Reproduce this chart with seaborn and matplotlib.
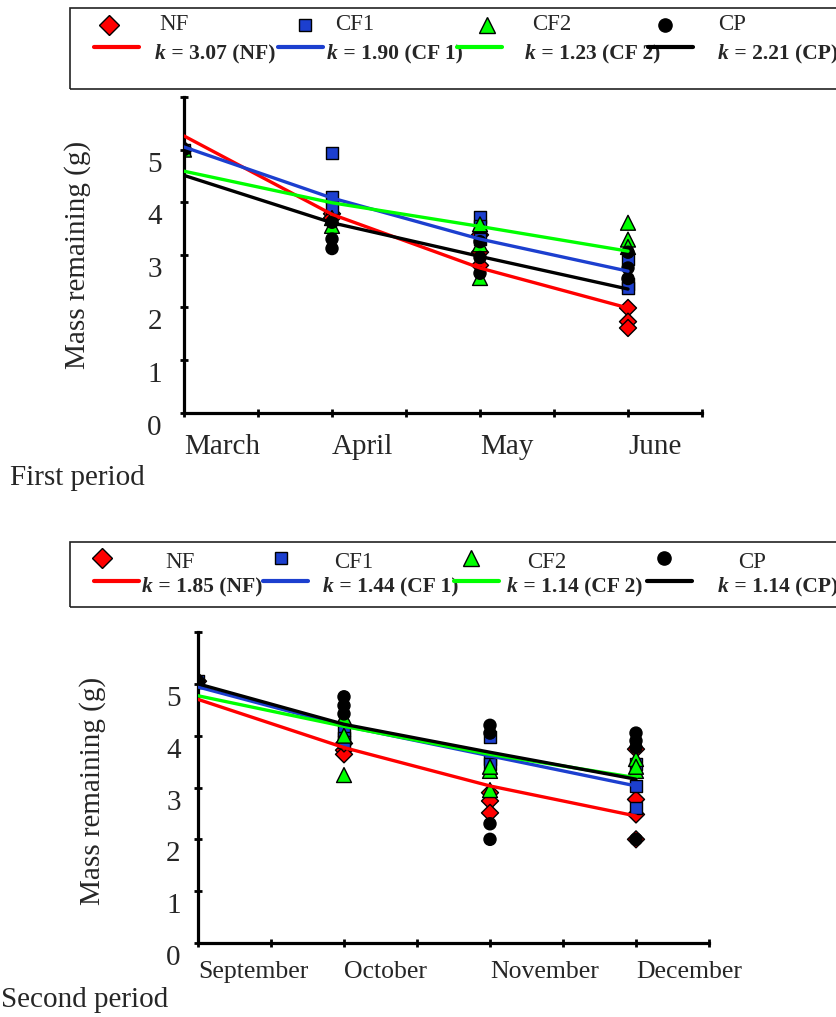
import matplotlib
matplotlib.use('Agg')
import matplotlib.pyplot as plt
import matplotlib.transforms as mtransforms
from matplotlib.lines import Line2D
from matplotlib.patches import Rectangle
import pandas as pd
import seaborn as sns

treatments = ['NF', 'CF1', 'CF2', 'CP']
colors = {'NF': '#ff0000', 'CF1': '#1c3fcf', 'CF2': '#00ff00', 'CP': '#000000'}
markers = {'NF': 'D', 'CF1': 's', 'CF2': '^', 'CP': 'o'}
marker_sizes = {'NF': 75, 'CF1': 70, 'CF2': 115, 'CP': 75}

# first period
months_1 = ['March', 'April', 'May', 'June']
k_1 = ['3.07 (NF)', '1.90 (CF 1)', '1.23 (CF 2)', '2.21 (CP)']
# replicate mass (g) at each sampling date
obs_1_nf = [[5.0], [3.78, 3.70], [3.38, 3.05, 2.80], [1.99, 1.73, 1.61]]
obs_1_cf1 = [[5.0], [4.93, 4.10, 3.89], [3.72, 3.55, 3.30], [2.91, 2.45, 2.37]]
obs_1_cf2 = [[5.0], [3.70, 3.55], [3.58, 3.20, 2.56], [3.61, 3.29, 3.15]]
obs_1_cp = [[5.0], [3.62, 3.30, 3.12], [3.25, 2.95, 2.65], [3.05, 2.75, 2.55]]
# fitted decay curves
fit_1_nf = [5.26, 3.77, 2.75, 1.99]
fit_1_cf1 = [5.05, 4.08, 3.30, 2.69]
fit_1_cf2 = [4.59, 3.99, 3.54, 3.07]
fit_1_cp = [4.51, 3.61, 2.97, 2.35]

# second period
months_2 = ['September', 'October', 'November', 'December']
k_2 = ['1.85 (NF)', '1.44 (CF 1)', '1.14 (CF 2)', '1.14 (CP)']
obs_2_nf = [[5.05], [3.72, 3.64, 3.85], [2.90, 2.74, 2.51], [3.74, 2.77, 2.48, 2.00]]
obs_2_cf1 = [[5.05], [4.10, 3.95, 3.88], [3.97, 3.55, 3.45], [3.45, 3.03, 2.61]]
obs_2_cf2 = [[5.05], [4.00, 3.24, 4.35], [3.32, 2.95, 3.40], [3.55, 3.32, 3.40]]
obs_2_cp = [[5.05], [4.75, 4.58, 4.42], [4.20, 4.05, 2.30, 2.00], [4.05, 3.90, 3.77, 2.00]]
fit_2_nf = [4.70, 3.77, 3.03, 2.45]
fit_2_cf1 = [4.94, 4.19, 3.61, 3.03]
fit_2_cf2 = [4.77, 4.18, 3.64, 3.19]
fit_2_cp = [5.00, 4.22, 3.68, 3.16]


def obs_frame(series):
    rows = []
    for trt, reps in zip(treatments, series):
        for month, vals in enumerate(reps):
            for v in vals:
                rows.append((trt, month, v))
    return pd.DataFrame(rows, columns=['treatment', 'month', 'mass'])


def fit_frame(series):
    rows = []
    for trt, vals in zip(treatments, series):
        for month, v in enumerate(vals):
            rows.append((trt, month, v))
    return pd.DataFrame(rows, columns=['treatment', 'month', 'mass'])


sns.set_theme(style='white')
plt.rcParams['font.family'] = ['Liberation Serif', 'DejaVu Serif']

W, H = 837, 1017
fig = plt.figure(figsize=(W / 100, H / 100), dpi=100)


def fx(x):
    return x / W


def fy(y):
    return 1 - y / H


def draw_panel(rect, obs, fit, months, month_size, xpad, ypad, label_x, label_y):
    ax = fig.add_axes(rect)
    sns.scatterplot(data=obs_frame(obs), x='month', y='mass', hue='treatment',
                    style='treatment', size='treatment', hue_order=treatments,
                    style_order=treatments, size_order=treatments, sizes=marker_sizes,
                    palette=colors, markers=markers, edgecolor='black',
                    linewidth=1, legend=False, zorder=2, ax=ax)
    sns.lineplot(data=fit_frame(fit), x='month', y='mass', hue='treatment',
                 hue_order=treatments, palette=colors, linewidth=2.4,
                 legend=False, zorder=3, ax=ax)
    ax.set_xlim(0, 3.5)
    ax.set_ylim(0, 6)
    sns.despine(ax=ax)
    for side in ['left', 'bottom']:
        ax.spines[side].set_linewidth(2.3)
        ax.spines[side].set_color('black')
    ax.set_xticks(range(len(months)))
    ax.set_xticklabels(months, ha='left', fontsize=month_size)
    ax.set_xticks([0.5, 1.5, 2.5, 3.5], minor=True)
    ax.set_yticks(range(6))
    ax.set_yticklabels([str(i) for i in range(6)], fontsize=21)
    ax.set_yticks([6], minor=True)
    ax.tick_params(which='both', direction='inout', length=6, width=2,
                   color='black', left=True, bottom=True)
    ax.tick_params(axis='x', pad=xpad)
    ax.tick_params(axis='y', pad=ypad)
    shift = mtransforms.ScaledTranslation(0, -0.12, fig.dpi_scale_trans)
    for lab in ax.get_yticklabels():
        lab.set_transform(lab.get_transform() + shift)
    ax.set_xlabel('')
    ax.set_ylabel('Mass remaining (g)', fontsize=21)
    ax.yaxis.set_label_coords(label_x, label_y)
    return ax


def draw_legend(ax, box, marker_x, name_x, line_x, k_x, rows_y, k_vals):
    top, bottom = box
    fig.add_artist(Rectangle((fx(70), fy(bottom)), fx(800), fy(top) - fy(bottom),
                             transform=fig.transFigure, fill=False,
                             edgecolor='#222222', linewidth=1.2))
    key_sizes = {'NF': 10, 'CF1': 9, 'CF2': 11.5, 'CP': 9.5}
    my, ny, ly, ky = rows_y
    for i, trt in enumerate(treatments):
        fig.add_artist(Line2D([fx(marker_x[i])], [fy(my)], transform=fig.transFigure,
                              marker=markers[trt], markersize=key_sizes[trt],
                              color=colors[trt], markeredgecolor='black',
                              markeredgewidth=1, linestyle=''))
        fig.text(fx(name_x[i]), fy(ny), trt, fontsize=16.5, ha='left', va='center')
        fig.add_artist(Line2D([fx(line_x[i]), fx(line_x[i] + 45)], [fy(ly), fy(ly)],
                              transform=fig.transFigure, color=colors[trt], linewidth=3))
        kt = fig.text(fx(k_x[i]), fy(ky), 'k', fontsize=15.5, fontweight='bold',
                      fontstyle='italic', ha='left', va='center')
        ax.annotate(' = ' + k_vals[i], xy=(1, 0), xycoords=kt, fontsize=15.5,
                    fontweight='bold', ha='left', va='bottom', annotation_clip=False)


# top panel
ax1 = draw_panel([fx(184), fy(412.7), fx(702 - 184), fy(97) - fy(412.7)],
                 [obs_1_nf, obs_1_cf1, obs_1_cf2, obs_1_cp],
                 [fit_1_nf, fit_1_cf1, fit_1_cf2, fit_1_cp],
                 months_1, 21, 12, 13, -0.18, 0.5)
# bottom panel
ax2 = draw_panel([fx(198), fy(943), fx(709 - 198), fy(632) - fy(943)],
                 [obs_2_nf, obs_2_cf1, obs_2_cf2, obs_2_cp],
                 [fit_2_nf, fit_2_cf1, fit_2_cf2, fit_2_cp],
                 months_2, 18.5, 10, 9.5, -0.18, 0.49)

draw_legend(ax1, (8, 89), [109, 305, 487, 665], [159, 335, 532, 718],
            [94, 278, 457, 648], [155, 327, 525, 718], (25, 25, 47, 54), k_1)
draw_legend(ax2, (542, 607), [102, 281, 471, 664], [165, 334, 527, 738],
            [94, 263, 454, 647], [142, 323, 507, 718], (558, 562, 581, 587), k_2)

fig.text(fx(10), fy(478), 'First period', fontsize=21, ha='left', va='center')
fig.text(fx(1), fy(1000), 'Second period', fontsize=21, ha='left', va='center')

fig.savefig('out.png', dpi=100)
